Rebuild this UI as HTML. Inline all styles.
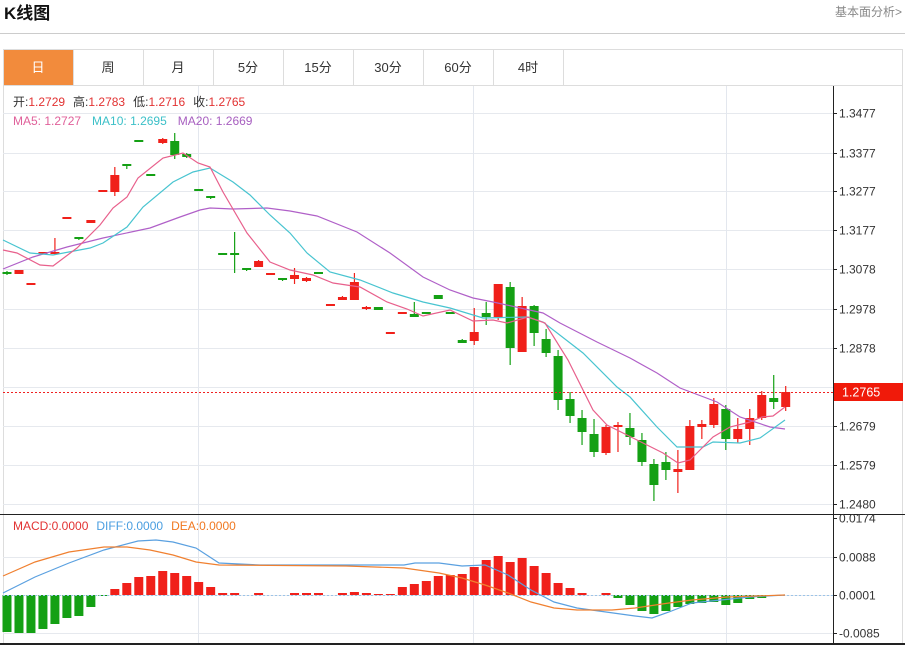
<!DOCTYPE html>
<html><head><meta charset="utf-8"><style>
body{margin:0;background:#fff;width:905px;height:645px;overflow:hidden;font-family:"Liberation Sans","Noto Sans CJK SC",sans-serif;}
svg{position:absolute;left:0;top:0}
</style></head><body>
<svg id="s" width="905" height="645" xmlns="http://www.w3.org/2000/svg" font-family="Liberation Sans, Noto Sans CJK SC, sans-serif">
<text x="4" y="19" font-size="17" font-weight="bold" fill="#111">K线图</text>
<text x="902" y="16" font-size="12" fill="#888" text-anchor="end">基本面分析&gt;</text>
<line x1="0" y1="33.5" x2="905" y2="33.5" stroke="#ccc"/>
<rect x="3.5" y="49.5" width="899" height="600" fill="none" stroke="#ddd"/>
<line x1="3" y1="85.5" x2="903" y2="85.5" stroke="#ddd"/>
<rect x="4" y="50" width="69" height="35" fill="#f28b3c"/>
<g stroke="#ddd"><line x1="73.5" y1="50" x2="73.5" y2="85"/><line x1="143.5" y1="50" x2="143.5" y2="85"/><line x1="213.5" y1="50" x2="213.5" y2="85"/><line x1="283.5" y1="50" x2="283.5" y2="85"/><line x1="353.5" y1="50" x2="353.5" y2="85"/><line x1="423.5" y1="50" x2="423.5" y2="85"/><line x1="493.5" y1="50" x2="493.5" y2="85"/><line x1="563.5" y1="50" x2="563.5" y2="85"/></g>
<g font-size="13" text-anchor="middle" fill="#333"><text x="38" y="72" fill="#fff">日</text><text x="108" y="72">周</text><text x="178" y="72">月</text><text x="248" y="72">5分</text><text x="318" y="72">15分</text><text x="388" y="72">30分</text><text x="458" y="72">60分</text><text x="528" y="72">4时</text></g>
<g id="g"></g>
<g font-size="12">
<text x="13" y="106"><tspan fill="#333">开:</tspan><tspan fill="#e23232">1.2729</tspan><tspan fill="#333" dx="8">高:</tspan><tspan fill="#e23232">1.2783</tspan><tspan fill="#333" dx="8">低:</tspan><tspan fill="#e23232">1.2716</tspan><tspan fill="#333" dx="8">收:</tspan><tspan fill="#e23232">1.2765</tspan></text>
<text x="13" y="125"><tspan fill="#e0609a">MA5: 1.2727</tspan><tspan fill="#3cc0c8" dx="11">MA10: 1.2695</tspan><tspan fill="#a860c0" dx="11">MA20: 1.2669</tspan></text>
<text x="13" y="530"><tspan fill="#e23232">MACD:0.0000</tspan><tspan fill="#4a9ee0" dx="8">DIFF:0.0000</tspan><tspan fill="#f07820" dx="8">DEA:0.0000</tspan></text>
</g>
</svg>
<script>
var g=document.getElementById('g'),h='';
function X(i){return 7+11.98*i}
// grid
[113,153,191,230,269,309,348,387,426,465,504,557,595,633].forEach(function(y){h+='<line x1="3" x2="833" y1="'+(y+.5)+'" y2="'+(y+.5)+'" stroke="#e6e9ee"/>'});
[198.5,473.5,726.5].forEach(function(x){h+='<line x1="'+x+'" x2="'+x+'" y1="86" y2="645" stroke="#e3e7ee"/>'});
// candles: [o,c,h,l] in px y
var C=[[273,273,271,275],[270,274,270,274],[284,284,283,285],[253,253,252,254],[253,253,238,255],[218,218,217,219],[238,238,237,240],[220,223,220,223],[191,191,190,192],[192,175,167,196],[165,165,164,169],[141,141,140,142],[175,175,174,176],[143,139,138,144],[141,155,133,159],[154,157,153,158],[190,190,189,191],[197,197,196,199],[254,254,253,255],[254,254,232,273],[269,269,268,271],[267,261,260,267],[274,274,273,275],[279,279,278,281],[279,275,268,284],[281,278,277,282],[273,273,272,274],[305,305,304,306],[300,297,296,300],[300,282,273,300],[308,308,306,310],[307,310,307,310],[333,333,332,334],[313,313,312,314],[314,317,302,317],[313,313,312,314],[295,299,295,299],[313,313,312,314],[340,343,339,343],[341,332,308,345],[313,317,302,325],[317,284,284,320],[287,348,282,365],[352,306,297,352],[306,333,305,346],[339,353,329,357],[356,400,350,410],[399,416,392,423],[418,432,410,445],[434,452,419,457],[453,427,425,455],[427,425,422,452],[428,437,413,445],[440,462,433,466],[464,485,459,501],[462,470,452,480],[472,469,450,493],[470,426,420,470],[427,424,420,439],[425,404,398,428],[409,439,405,450],[439,429,418,443],[429,418,409,445],[418,395,391,420],[398,402,375,409],[407,392,386,411]];
C.forEach(function(c,i){var x=X(i),up=c[1]<c[0]||(c[1]==c[0]&&0),col;
 // red if close above open (y smaller)
 col=(c[1]<c[0])?'#f0201a':(c[1]>c[0]?'#14a014':null);
 if(!col){col=[1,2,3,4,5,7,8,13,21,22,24,25,27,28,30,32,33,56,58].indexOf(i)>=0?'#f0201a':'#14a014';}
 if([1,7,25,28,56,58].indexOf(i)>=0) col='#f0201a';
 if([31,38,15,36,45].indexOf(i)>=0) col='#14a014';
 var t=Math.min(c[0],c[1]),b=Math.max(c[0],c[1]);if(b-t<2){t-=1;b+=1}
 h+='<line x1="'+x+'" x2="'+x+'" y1="'+c[2]+'" y2="'+c[3]+'" stroke="'+col+'" stroke-width="1.2"/>';
 h+='<rect x="'+(x-4.5)+'" y="'+t+'" width="9" height="'+(b-t)+'" fill="'+col+'"/>';
});
function pl(p,c){h+='<polyline fill="none" stroke="'+c+'" stroke-width="1.2" points="'+p+'"/>'}
pl('3,269 33,257 67,247 103,238 150,228 180,217 200,210 210,208 233,209 267,208 290,211 317,216 357,232 390,253 423,277 450,290 473,298 493,302 543,313 560,323 597,342 630,358 657,373 680,388 717,402 740,417 770,427 785,429','#b060c8');
pl('3,240 30,253 53,255 90,248 103,243 127,227 143,207 173,182 193,172 210,168 233,182 250,195 270,215 290,233 307,253 330,272 360,280 393,293 423,302 450,308 483,318 527,317 543,322 583,353 617,387 630,397 657,427 677,447 703,447 713,442 740,443 760,438 785,420','#48c4d0');
pl('3,250 17,253 40,265 53,266 77,248 100,225 113,208 127,197 138,178 163,158 183,153 198,163 210,167 223,192 247,233 270,262 290,270 313,275 333,283 360,287 387,302 407,309 423,316 450,310 473,321 493,320 507,323 528,317 545,323 568,360 593,410 607,425 637,440 663,453 678,463 690,460 713,437 730,427 750,422 762,417 773,416 785,407','#e8608c');
// last price
h+='<line x1="3" x2="833" y1="392.5" y2="392.5" stroke="#f02020" stroke-dasharray="2,2"/>';
// MACD bars
var M=[632,633,633,629,624,618,616,607,596,589,583,577,576,571,573,576,582,587,593,593,595,593,595,595,593,593,593,595,593,592,593,594,594,587,584,581,576,575,574,567,560,556,562,558,566,573,583,588,593,595,593,598,605,611,614,611,607,604,603,602,605,603,599,598,596];
M.forEach(function(v,i){var x=X(i)-4.5;if(v>595)h+='<rect x="'+x+'" y="595" width="9" height="'+(v-595)+'" fill="#14a014"/>';else if(v<595)h+='<rect x="'+x+'" y="'+v+'" width="9" height="'+(595-v)+'" fill="#f0201a"/>';});
h+='<line x1="3" x2="833" y1="595.5" y2="595.5" stroke="#9cc4e8" stroke-dasharray="2,2"/>';
pl('3,593 35,577 69,563 104,550 138,541 156,540 173,542 196,548 219,563 260,565 346,565 404,565 415,563 439,563 462,566 485,565 508,575 531,590 554,602 577,608 606,612 635,616 652,618 669,612 692,603 721,600 750,597 785,595','#5aa0e0');
pl('3,576 35,562 69,552 104,547 127,547 150,550 173,555 196,562 219,565 346,566 404,568 439,573 462,578 485,585 508,593 531,602 554,608 577,610 612,610 635,608 669,603 692,600 727,597 785,595','#f08030');
// axes
h+='<line x1="0" x2="905" y1="514.5" y2="514.5" stroke="#222"/><line x1="0" x2="905" y1="644" y2="644" stroke="#222" stroke-width="2"/>';
h+='<line x1="833.5" x2="833.5" y1="86" y2="645" stroke="#222"/>';
var L=[[113,'1.3477'],[153,'1.3377'],[191,'1.3277'],[230,'1.3177'],[269,'1.3078'],[309,'1.2978'],[348,'1.2878'],[426,'1.2679'],[465,'1.2579'],[504,'1.2480'],[518,'0.0174'],[557,'0.0088'],[595,'0.0001'],[633,'-0.0085']];
L.forEach(function(l){h+='<line x1="833" x2="837" y1="'+(l[0]+.5)+'" y2="'+(l[0]+.5)+'" stroke="#222"/><text x="839" y="'+(l[0]+4.5)+'" font-size="12" fill="#333">'+l[1]+'</text>'});
h+='<rect x="834" y="383" width="69" height="18" fill="#f01a0a"/><text x="842" y="396.5" font-size="12.5" fill="#fff">1.2765</text>';
g.innerHTML=h;
</script>
</body></html>
